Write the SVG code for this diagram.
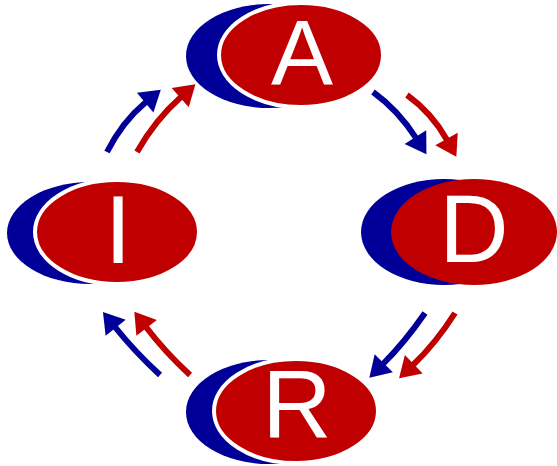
<svg xmlns="http://www.w3.org/2000/svg" width="557" height="466" viewBox="0 0 557 466">
<style>
.back{fill:#000099}
.front{fill:#c00000;stroke:#ffffff;stroke-width:4}
.frontD{fill:#c00000}
.lbl{fill:#ffffff;font-family:"Liberation Sans",Arial,sans-serif;font-size:96px;text-anchor:middle}
.cb{fill:none;stroke:#000099;stroke-width:6;marker-end:url(#hb)}
.cr{fill:none;stroke:#c00000;stroke-width:6;marker-end:url(#hr)}
</style>
<defs>
<marker id="hb" markerUnits="userSpaceOnUse" markerWidth="30" markerHeight="30" viewBox="-2 -14 24 28" refX="0" refY="0" orient="auto" overflow="visible"><path d="M-1,-12 L18,0 L-1,12 Z" fill="#000099"/></marker>
<marker id="hr" markerUnits="userSpaceOnUse" markerWidth="30" markerHeight="30" viewBox="-2 -14 24 28" refX="0" refY="0" orient="auto" overflow="visible"><path d="M-1,-12 L18,0 L-1,12 Z" fill="#c00000"/></marker>
</defs>
<g id="connectors">
<path class="cb" d="M107,152 Q122,122 146,102"/>
<path class="cr" d="M137,152 Q155,120 181,97"/>
<path class="cb" d="M373,92 Q398,110 416,138"/>
<path class="cr" d="M407,95 Q432,113 447,140"/>
<path class="cb" d="M425,313 Q405,342 383,364"/>
<path class="cr" d="M455,313 Q436,343 413,365"/>
<path class="cb" d="M160,375 Q135,352 115,327"/>
<path class="cr" d="M190,375 Q165,352 146,327"/>
</g>
<g id="node-A">
<ellipse class="back" cx="269" cy="56" rx="83" ry="52"/>
<ellipse class="front" cx="301" cy="55" rx="82" ry="52"/>
<text class="lbl" x="302" y="85" style="font-size:93px">A</text>
</g>
<g id="node-D">
<ellipse class="back" cx="444" cy="232" rx="83" ry="53"/>
<ellipse class="frontD" cx="474" cy="232" rx="83" ry="53"/>
<text class="lbl" x="474" y="262">D</text>
</g>
<g id="node-I">
<ellipse class="back" cx="90" cy="233" rx="83" ry="51"/>
<ellipse class="front" cx="117" cy="232" rx="82" ry="52"/>
<text class="lbl" x="118" y="263">I</text>
</g>
<g id="node-R">
<ellipse class="back" cx="269" cy="412" rx="83" ry="52"/>
<ellipse class="front" cx="296" cy="411" rx="82" ry="52"/>
<text class="lbl" x="297" y="438">R</text>
</g>
</svg>
